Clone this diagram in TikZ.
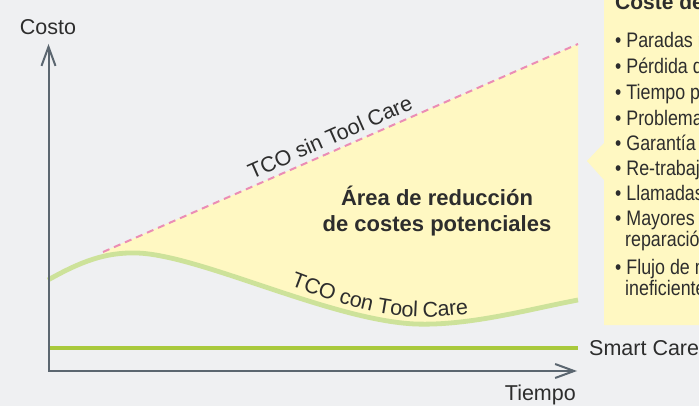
\documentclass[tikz,border=0pt]{standalone}
\usepackage{fontspec}
\setmainfont{Liberation Sans}
\newfontfamily\narrowfont[FakeStretch=0.85]{Liberation Sans}
\usetikzlibrary{arrows.meta,decorations.text}
\definecolor{bgc}{HTML}{EFF0F2}
\definecolor{areac}{HTML}{FFF8C2}
\definecolor{pinkc}{HTML}{EB8DB5}
\definecolor{curvec}{HTML}{CDE29A}
\definecolor{smartc}{HTML}{A9C93C}
\definecolor{axisc}{HTML}{5B6670}
\definecolor{txt}{HTML}{2D2D2D}
\begin{document}
\begin{tikzpicture}[x=1pt,y=1pt,
  lbl/.style={text=txt,font=\fontsize{21.5}{25}\selectfont,inner sep=0pt},
  boldlbl/.style={text=txt,font=\bfseries\fontsize{22}{26.5}\selectfont,inner sep=0pt,align=center},
  axisline/.style={draw=axisc,line width=2pt,line join=miter,
    {Straight Barb[length=19pt,width=14pt]}-{Straight Barb[length=19pt,width=14pt]}},
  boxtxt/.style={text=txt,font=\narrowfont\fontsize{21}{24}\selectfont,inner sep=0pt,anchor=base west},
  boxtitle/.style={text=txt,font=\bfseries\fontsize{21}{24}\selectfont,inner sep=0pt,anchor=base west}]
\useasboundingbox (0,0) rectangle (699,-406);
\fill[bgc] (0,0) rectangle (699,-406);

% reduction area
\begin{scope}
\clip (103,0) rectangle (578,-406);
\fill[areac] (48,-280) .. controls (80,-262) and (105,-252) .. (137,-253)
  .. controls (200,-255) and (330,-320) .. (415,-324)
  .. controls (470,-326) and (530,-309) .. (578,-300)
  -- (578,-44) -- (48,-276) -- cycle;
\end{scope}

% TCO sin Tool Care
\coordinate (ds) at (103,-252);
\coordinate (de) at (578,-44);
\draw[pinkc,line width=2pt,dash pattern=on 7pt off 5pt] (ds) -- (de);
\node[lbl,rotate=23.75] (sin) at (330,-137) {TCO sin Tool Care};

% TCO con Tool Care
\coordinate (c0) at (48,-280);
\coordinate (c1) at (137,-253);
\coordinate (c2) at (415,-324);
\coordinate (c3) at (578,-300);
\draw[curvec,line width=4.8pt] (c0) .. controls (80,-262) and (105,-252) .. (c1)
  .. controls (200,-255) and (330,-320) .. (c2)
  .. controls (470,-326) and (530,-309) .. (c3);
\path[decorate,decoration={text along path,raise=7pt,text color=txt,
   text={|\fontsize{21.5}{25}\selectfont|TCO con Tool Care}}]
  (288,-292) .. controls (330,-308) and (370,-322) .. (415,-324)
  .. controls (445,-325) and (480,-320) .. (530,-309);

\node[boldlbl] (area) at (437,-211) {Área de reducción\\de costes potenciales};

% Smart Care
\coordinate (sc0) at (48,-348);
\coordinate (sc1) at (578,-348);
\draw[smartc,line width=4pt] (sc0) -- (sc1);
\node[lbl,anchor=west] (smart) at (589,-348) {Smart Care};

% axes
\coordinate (o) at (48.5,-371);
\coordinate (ytip) at (48.5,-44);
\coordinate (xtip) at (577,-371);
\draw[axisline] (ytip) -- (o) -- (xtip);
\node[lbl] (costo) at (48,-27) {Costo};
\node[lbl,anchor=base east] (tiempo) at (576,-400) {Tiempo};

% callout box
\fill[areac] (604,1) -- (604,-143) -- (587,-161) -- (604,-180) -- (604,-325) -- (700,-325) -- (700,1) -- cycle;
\begin{scope}
\clip (0,0) rectangle (699,-406);
\node[boxtitle] (title) at (615,-10) {Coste de};
\node[boxtxt] (b1) at (615,-48) {• Paradas n};
\node[boxtxt] (b2) at (615,-74) {• Pérdida d};
\node[boxtxt] (b3) at (615,-100) {• Tiempo p};
\node[boxtxt] (b4) at (615,-125.5) {• Problemas};
\node[boxtxt] (b5) at (615,-151) {• Garantía};
\node[boxtxt] (b6) at (615,-176) {• Re-trabajo};
\node[boxtxt] (b7) at (615,-200.5) {• Llamadas};
\node[boxtxt] (b8) at (615,-225.5) {• Mayores};
\node[boxtxt] (b8b) at (625,-247) {reparación};
\node[boxtxt] (b9) at (615,-274.5) {• Flujo de ma};
\node[boxtxt] (b9b) at (625,-295) {ineficiente};
\end{scope}
\end{tikzpicture}
\end{document}
